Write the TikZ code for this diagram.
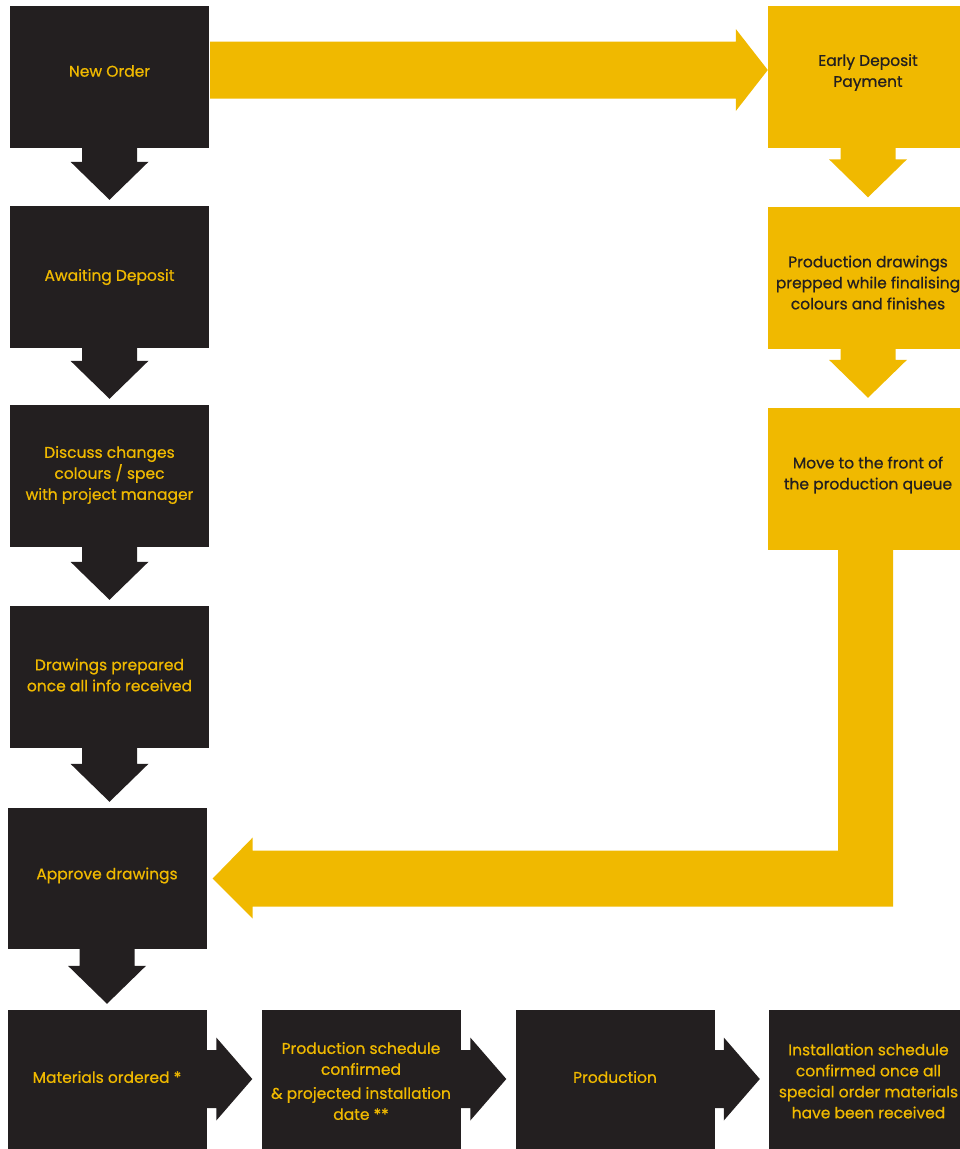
\documentclass[tikz,border=0pt]{standalone}
\usepackage{fontspec}
\setmainfont{Poppins}
\newfontfamily\boxfont{Poppins}[FakeBold=0.7]
\usetikzlibrary{calc}
\definecolor{ink}{HTML}{231F20}
\definecolor{gold}{HTML}{F0B900}
\tikzset{
  box/.style={rectangle, inner sep=0pt, minimum width=199pt, minimum height=142pt},
  darkbox/.style={box, fill=ink},
  goldbox/.style={box, fill=gold},
  txt/.style={inner sep=0pt, align=center, font=\boxfont\fontsize{15.5}{21}\selectfont},
  dtxt/.style={txt, text=gold},
  gtxt/.style={txt, text=ink},
}
% vertical block arrow: #1 source, #2 target, #3 colour, #4 gap before target
\newcommand\vblock[4]{%
  \fill[#3] ($(#1.south)+(-27.5,-1)$) -- ($(#1.south)+(27.5,-1)$)
   -- ($(#1.south |- #2.north)+(27.5,-#4-38)$) -- ($(#1.south |- #2.north)+(39,-#4-38)$)
   -- ($(#1.south |- #2.north)+(0,-#4)$)
   -- ($(#1.south |- #2.north)+(-39,-#4-38)$) -- ($(#1.south |- #2.north)+(-27.5,-#4-38)$) -- cycle;}
% horizontal block arrow: #1 source, #2 target, #3 colour
\newcommand\hblock[3]{%
  \fill[#3] ($(#1.east)+(-1,-31)$) -- ($(#2.west |- #1.east)+(-45,-31)$)
   -- ($(#2.west |- #1.east)+(-45,-43.5)$) -- ($(#2.west |- #1.east)+(-9,-2)$)
   -- ($(#2.west |- #1.east)+(-45,39.5)$) -- ($(#2.west |- #1.east)+(-45,27)$)
   -- ($(#1.east)+(-1,27)$) -- cycle;}
\begin{document}
\begin{tikzpicture}[x=1pt,y=-1pt]
\useasboundingbox (0,0) rectangle (960,1149);
\clip (0,0) rectangle (960,1149);
% left column
\node[darkbox, label={[dtxt, name=neworder-t, yshift=6]center:New Order}] (neworder) at (109.5,77) {};
\node[darkbox, label={[dtxt, name=await-t, yshift=0]center:Awaiting Deposit}] (await) at (109.5,277) {};
\node[darkbox, label={[dtxt, name=discuss-t, yshift=1]center:Discuss changes\\colours / spec\\with project manager}] (discuss) at (109.5,476) {};
\node[darkbox, label={[dtxt, name=drawprep-t, yshift=2]center:Drawings prepared\\once all info received}] (drawprep) at (109.5,677) {};
\node[darkbox, minimum height=141pt, label={[dtxt, name=approve-t, yshift=3]center:Approve drawings}] (approve) at (107,878.5) {};
% bottom row
\node[darkbox, label={[dtxt, name=materials-t, yshift=4]center:Materials ordered *}] (materials) at (107,1081) {};
\node[darkbox, label={[dtxt, name=schedule-t, yshift=0]center:Production schedule\\confirmed\\[3pt]\& projected installation\\date **}] (schedule) at (361,1081) {};
\node[darkbox, label={[dtxt, name=production-t, yshift=4]center:Production}] (production) at (615,1081) {};
\node[darkbox, label={[dtxt, name=install-t, yshift=0]center:Installation schedule\\confirmed once all\\special order materials\\have been received}] (install) at (868.5,1081) {};
% right column
\node[goldbox, minimum width=200pt, label={[gtxt, name=early-t, yshift=4.5]center:Early Deposit\\Payment}] (early) at (868,77) {};
\node[goldbox, minimum width=200pt, label={[gtxt, name=prepped-t, yshift=-5]center:Production drawings\\prepped while finalising\\colours and finishes}] (prepped) at (868,277.5) {};
\node[goldbox, minimum width=200pt, label={[gtxt, name=front-t, yshift=4]center:Move to the front of\\the production queue}] (front) at (868,479) {};
% left column arrows
\vblock{neworder}{await}{ink}{6}
\vblock{await}{discuss}{ink}{6}
\vblock{discuss}{drawprep}{ink}{6}
\vblock{drawprep}{approve}{ink}{6}
\vblock{approve}{materials}{ink}{6}
% right column arrows
\vblock{early}{prepped}{gold}{9}
\vblock{prepped}{front}{gold}{10}
% bottom row arrows
\hblock{materials}{schedule}{ink}
\hblock{schedule}{production}{ink}
\hblock{production}{install}{ink}
% top arrow New Order -> Early Deposit
\fill[gold] ($(neworder.east)+(1,-35.5)$) -- ($(early.west |- neworder.east)+(-32,-35.5)$)
  -- ($(early.west |- neworder.east)+(-32,-48)$) -- ($(early.west |- neworder.east)+(0,-7)$)
  -- ($(early.west |- neworder.east)+(-32,34)$) -- ($(early.west |- neworder.east)+(-32,21.5)$)
  -- ($(neworder.east)+(1,21.5)$) -- cycle;
% return arrow Move to front -> Approve drawings
\fill[gold] ($(front.south)+(-30,-1)$) -- ($(front.south)+(25,-1)$)
  -- ($(front.south |- approve.east)+(25,28)$) -- ($(approve.east)+(46,28)$)
  -- ($(approve.east)+(46,40)$) -- ($(approve.east)+(6,0)$)
  -- ($(approve.east)+(46,-41)$) -- ($(approve.east)+(46,-28)$)
  -- ($(front.south |- approve.east)+(-30,-28)$) -- cycle;
\end{tikzpicture}
\end{document}
